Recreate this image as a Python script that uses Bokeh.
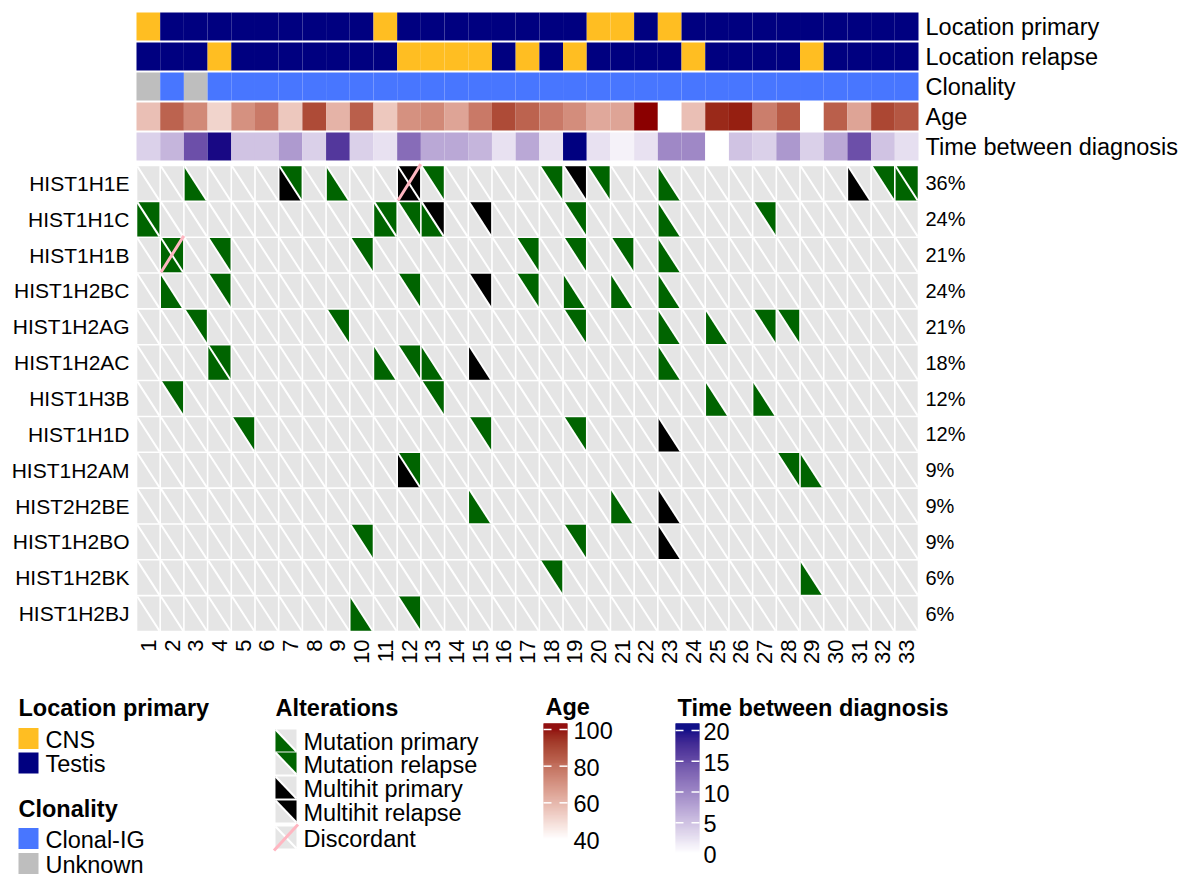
import numpy as np
from bokeh.plotting import figure
from bokeh.layouts import column
from bokeh.models import Range1d, ColumnDataSource
from bokeh.transform import linear_cmap, factor_cmap
from bokeh.core.properties import value
from bokeh.embed import file_html
from bokeh.resources import INLINE

FONT = "Liberation Sans"

# ---------------- data ----------------
samples = list(range(1, 34))

loc_primary = ["CNS", "Testis", "Testis", "Testis", "Testis", "Testis", "Testis", "Testis", "Testis", "Testis",
               "CNS", "Testis", "Testis", "Testis", "Testis", "Testis", "Testis", "Testis", "Testis", "CNS",
               "CNS", "Testis", "CNS", "Testis", "Testis", "Testis", "Testis", "Testis", "Testis", "Testis",
               "Testis", "Testis", "Testis"]
loc_relapse = ["Testis", "Testis", "Testis", "CNS", "Testis", "Testis", "Testis", "Testis", "Testis", "Testis",
               "Testis", "CNS", "CNS", "CNS", "CNS", "Testis", "CNS", "Testis", "CNS", "Testis",
               "Testis", "Testis", "Testis", "CNS", "Testis", "Testis", "Testis", "Testis", "CNS", "Testis",
               "Testis", "Testis", "Testis"]
clonality = ["Unknown", "Clonal-IG", "Unknown", "Clonal-IG", "Clonal-IG", "Clonal-IG", "Clonal-IG", "Clonal-IG",
             "Clonal-IG", "Clonal-IG", "Clonal-IG", "Clonal-IG", "Clonal-IG", "Clonal-IG", "Clonal-IG", "Clonal-IG",
             "Clonal-IG", "Clonal-IG", "Clonal-IG", "Clonal-IG", "Clonal-IG", "Clonal-IG", "Clonal-IG", "Clonal-IG",
             "Clonal-IG", "Clonal-IG", "Clonal-IG", "Clonal-IG", "Clonal-IG", "Clonal-IG", "Clonal-IG", "Clonal-IG",
             "Clonal-IG"]
nan = float("nan")
age = [56, 80, 70, 51, 68, 74, 54, 86, 59, 81, 54, 68, 70, 63, 74, 86, 80, 74, 69, 62,
       63, 100, nan, 56, 94, 96, 73, 82, nan, 81, 63, 87, 83]
time_between = [3.4, 5.5, 13.6, 19.3, 4.4, 4.4, 7.6, 3.5, 15.7, 3.5, 2.2, 11.2, 6.5, 6.5, 5.5, 2.2, 6.5,
                2.2, 20.0, 2.2, 1.0, 2.2, 9.0, 9.0, nan, 4.4, 3.5, 7.8, 3.5, 6.5, 13.6, 4.4, 2.4]

annot_names = ["Location primary", "Location relapse", "Clonality", "Age", "Time between diagnosis"]

genes = ["HIST1H1E", "HIST1H1C", "HIST1H1B", "HIST1H2BC", "HIST1H2AG", "HIST1H2AC", "HIST1H3B",
         "HIST1H1D", "HIST1H2AM", "HIST2H2BE", "HIST1H2BO", "HIST1H2BK", "HIST1H2BJ"]
pct_labels = ["36%", "24%", "21%", "24%", "21%", "18%", "12%", "12%", "9%", "9%", "9%", "6%", "6%"]

mutation_primary = {
    "HIST1H1E": [3, 9, 23, 33], "HIST1H1C": [1, 11, 13, 23], "HIST1H1B": [2, 23],
    "HIST1H2BC": [2, 19, 21, 23], "HIST1H2AG": [23, 25], "HIST1H2AC": [4, 11, 13, 23],
    "HIST1H3B": [25, 27], "HIST1H2AM": [29], "HIST2H2BE": [15, 21], "HIST1H2BK": [29],
    "HIST1H2BJ": [10],
}
mutation_relapse = {
    "HIST1H1E": [7, 13, 18, 20, 32, 33], "HIST1H1C": [1, 11, 12, 19, 27],
    "HIST1H1B": [2, 4, 10, 17, 19, 21], "HIST1H2BC": [4, 12, 17], "HIST1H2AG": [3, 9, 19, 27, 28],
    "HIST1H2AC": [4, 12], "HIST1H3B": [2, 13], "HIST1H1D": [5, 15, 19], "HIST1H2AM": [12, 28],
    "HIST1H2BO": [10, 19], "HIST1H2BK": [18], "HIST1H2BJ": [12],
}
multihit_primary = {
    "HIST1H1E": [7, 12, 31], "HIST1H2AC": [15], "HIST1H1D": [23], "HIST1H2AM": [12],
    "HIST2H2BE": [23], "HIST1H2BO": [23],
}
multihit_relapse = {"HIST1H1E": [12, 19], "HIST1H1C": [13, 15], "HIST1H2BC": [15]}
discordant = {"HIST1H1E": [12], "HIST1H1B": [2]}

age_ticks = [40, 60, 80, 100]
time_ticks = [0, 5, 10, 15, 20]

# ---------------- colours ----------------
C_CNS, C_TESTIS = "#FFBE22", "#000080"
C_CLONAL, C_UNKNOWN = "#4876FF", "#BEBEBE"
C_BG, C_MUT, C_MULTI, C_DISC = "#E5E5E5", "#006400", "#000000", "#FFB6C1"


def _lin(c):
    c = c / 255.0
    return c / 12.92 if c <= 0.04045 else ((c + 0.055) / 1.055) ** 2.4


def _gam(c):
    c = min(1.0, max(0.0, c))
    c = 12.92 * c if c <= 0.0031308 else 1.055 * c ** (1 / 2.4) - 0.055
    return int(round(min(1.0, max(0.0, c)) * 255))


def hex2lab(h):
    r, g, b = [_lin(int(h[i:i + 2], 16)) for i in (1, 3, 5)]
    X = (0.4124564 * r + 0.3575761 * g + 0.1804375 * b) / 0.95047
    Y = 0.2126729 * r + 0.7151522 * g + 0.0721750 * b
    Z = (0.0193339 * r + 0.1191920 * g + 0.9503041 * b) / 1.08883
    f = lambda t: t ** (1 / 3) if t > 216 / 24389 else (24389 / 27 * t + 16) / 116
    fx, fy, fz = f(X), f(Y), f(Z)
    return 116 * fy - 16, 500 * (fx - fy), 200 * (fy - fz)


def lab2hex(L, a, b):
    fy = (L + 16) / 116
    fx = fy + a / 500
    fz = fy - b / 200
    finv = lambda t: t ** 3 if t ** 3 > 216 / 24389 else (116 * t - 16) / (24389 / 27)
    X, Y, Z = finv(fx) * 0.95047, finv(fy), finv(fz) * 1.08883
    r = 3.2404542 * X - 1.5371385 * Y - 0.4985314 * Z
    g = -0.9692660 * X + 1.8760108 * Y + 0.0415560 * Z
    bb = 0.0556434 * X - 0.2040259 * Y + 1.0572252 * Z
    return "#%02x%02x%02x" % (_gam(r), _gam(g), _gam(bb))


def lab_palette(c0, c1, n=256):
    l0, l1 = hex2lab(c0), hex2lab(c1)
    return [lab2hex(*[l0[k] + (l1[k] - l0[k]) * t for k in range(3)]) for t in np.linspace(0, 1, n)]


age_palette = lab_palette("#FFFFFF", "#8B0000")
time_palette = lab_palette("#FFFFFF", "#000080")


def age_cmap(field):
    return linear_cmap(field, age_palette, 40, 100, nan_color="white")


def time_cmap(field):
    return linear_cmap(field, time_palette, 0, 20, nan_color="white")


# ---------------- layout constants (pixels) ----------------
W = 1190
GRID_L, GRID_R = 136.0, 918.0                    # heatmap body left / right edge
PX_COL = (GRID_R - GRID_L) / len(samples)        # pixels per sample column
x_range = Range1d(0.5 - GRID_L / PX_COL, len(samples) + 0.5 + (W - GRID_R) / PX_COL)


def base_fig(height, x_rng, y_rng):
    p = figure(width=W, height=height, x_range=x_rng, y_range=y_rng, output_backend="svg",
               toolbar_location=None, x_axis_location=None, y_axis_location=None, min_border=0,
               title=None)
    p.grid.visible = False
    p.outline_line_color = None
    return p


def txt(p, x, y, t, size, align="left", baseline="middle", bold=False, **kw):
    p.text(x=x, y=y, text=t, text_font=value(FONT), text_font_size=size, text_align=align,
           text_baseline=baseline, text_color="black", text_font_style="bold" if bold else "normal", **kw)


# ---------------- annotation figure ----------------
A_PITCH, A_TOP = 30.0, 11.0
na = len(annot_names)
ay = {n: na - 1 - k for k, n in enumerate(annot_names)}
p1 = base_fig(161, x_range, Range1d(-0.5, na - 0.5 + A_TOP / A_PITCH))
AH = 0.94
loc_map = factor_cmap("v", palette=[C_CNS, C_TESTIS], factors=["CNS", "Testis"])
for name, vals, cmap in [
        ("Location primary", loc_primary, loc_map),
        ("Location relapse", loc_relapse, loc_map),
        ("Clonality", clonality, factor_cmap("v", palette=[C_CLONAL, C_UNKNOWN], factors=["Clonal-IG", "Unknown"])),
        ("Age", np.array(age, dtype=float), age_cmap("v")),
        ("Time between diagnosis", np.array(time_between, dtype=float), time_cmap("v"))]:
    src = ColumnDataSource(dict(x=samples, y=[ay[name]] * len(samples), v=vals))
    p1.rect(x="x", y="y", width=1.0, height=AH, source=src, fill_color=cmap, line_color=None)
txt(p1, [len(samples) + 0.5] * na, [ay[n] for n in annot_names], annot_names, "23.5px", x_offset=7)

# ---------------- oncoprint figure ----------------
G_PITCH = 35.85
ny = len(genes)
ypos = {g: ny - 1 - i for i, g in enumerate(genes)}
p2 = base_fig(529, x_range, Range1d(-0.5 - 59 / G_PITCH, ny - 0.5 + 4 / G_PITCH))

HW, HH = 0.466, 0.478
gx = np.array([s for g in genes for s in samples], dtype=float)
gy = np.array([ypos[g] for g in genes for s in samples], dtype=float)
p2.rect(x=gx, y=gy, width=2 * HW, height=2 * HH, fill_color=C_BG, line_color=None)


def tri_source(table, upper):
    xs, ys = [], []
    for g, cols in table.items():
        for c in cols:
            y = ypos[g]
            if upper:
                xs.append([c - HW, c + HW, c + HW])
                ys.append([y + HH, y + HH, y - HH])
            else:
                xs.append([c - HW, c - HW, c + HW])
                ys.append([y + HH, y - HH, y - HH])
    return dict(xs=xs, ys=ys)


for table, upper, col in [(mutation_primary, False, C_MUT), (mutation_relapse, True, C_MUT),
                          (multihit_primary, False, C_MULTI), (multihit_relapse, True, C_MULTI)]:
    d = tri_source(table, upper)
    p2.patches(xs=d["xs"], ys=d["ys"], fill_color=col, line_color=None)

p2.segment(x0=gx - HW, y0=gy + HH, x1=gx + HW, y1=gy - HH, line_color="white", line_width=2)

dx = np.array([c for g, cols in discordant.items() for c in cols], dtype=float)
dy = np.array([ypos[g] for g, cols in discordant.items() for c in cols], dtype=float)
p2.segment(x0=dx - HW, y0=dy - HH, x1=dx + HW + 0.03, y1=dy + HH + 0.06, line_color=C_DISC, line_width=3)

# row names, percentages, column names
txt(p2, [0.5] * ny, [ypos[g] for g in genes], genes, "21px", align="right", x_offset=-7)
txt(p2, [len(samples) + 0.5] * ny, [ypos[g] for g in genes], pct_labels, "20px", x_offset=7)
txt(p2, samples, [-0.5] * len(samples), [str(s) for s in samples], "22px", align="right",
    angle=np.pi / 2, y_offset=8)

# ---------------- legend figure (page pixel coordinates) ----------------
p3 = base_fig(187, Range1d(0, W), Range1d(877, 690))
TS = "23.5px"


def label(x, y, t):
    txt(p3, [x] * len(t), y, t, TS)


def ltitle(x, y, t):
    txt(p3, [x], [y], [t], TS, bold=True)


ltitle(18, 707, "Location primary")
p3.rect(x=[28, 28], y=[738, 762.5], width=20, height=21, fill_color=[C_CNS, C_TESTIS], line_color=None)
label(45, [739, 763.5], ["CNS", "Testis"])

ltitle(18, 808, "Clonality")
p3.rect(x=[28, 28], y=[838, 863], width=20, height=21, fill_color=[C_CLONAL, C_UNKNOWN], line_color=None)
label(45, [839, 864], ["Clonal-IG", "Unknown"])

ltitle(275, 707, "Alterations")
alt_names = ["Mutation primary", "Mutation relapse", "Multihit primary", "Multihit relapse", "Discordant"]
ly = [740, 763, 787, 811, 837]
ix, iw, ih = 285.5, 10.5, 11
p3.rect(x=[ix] * 5, y=ly, width=2 * iw, height=2 * ih, fill_color=C_BG, line_color=None)
ll = lambda y: ([ix - iw, ix - iw, ix + iw], [y - ih, y + ih, y + ih])
ur = lambda y: ([ix - iw, ix + iw, ix + iw], [y - ih, y - ih, y + ih])
shapes = [(ll(ly[0]), C_MUT), (ur(ly[1]), C_MUT), (ll(ly[2]), C_MULTI), (ur(ly[3]), C_MULTI)]
p3.patches(xs=[s[0][0] for s in shapes], ys=[s[0][1] for s in shapes], fill_color=[s[1] for s in shapes],
           line_color=None)
p3.segment(x0=[ix - iw] * 5, y0=[y - ih for y in ly], x1=[ix + iw] * 5, y1=[y + ih for y in ly],
           line_color="white", line_width=2)
p3.segment(x0=[ix - iw - 1.5], y0=[ly[4] + ih + 2], x1=[ix + iw + 1.5], y1=[ly[4] - ih - 2],
           line_color=C_DISC, line_width=3)
label(303, [y + 1 for y in ly], alt_names)

# Age colour bar
ltitle(545, 706, "Age")
a_x0, a_x1 = 543, 567
a_y = lambda v: 839 - (v - 40) * 110 / 60
a_px = np.arange(723, 846)
a_src = ColumnDataSource(dict(y=a_px + 0.5, v=40 + (839 - (a_px + 0.5)) * 60 / 110))
p3.rect(x=(a_x0 + a_x1) / 2, y="y", width=a_x1 - a_x0, height=1.4, source=a_src,
        fill_color=age_cmap("v"), line_color=None)
aty = [a_y(t) for t in age_ticks]
p3.segment(x0=[a_x0] * 4, y0=aty, x1=[a_x0 + 8] * 4, y1=aty, line_color="white", line_width=1.5)
p3.segment(x0=[a_x1 - 8] * 4, y0=aty, x1=[a_x1] * 4, y1=aty, line_color="white", line_width=1.5)
label(573, [y + 1 for y in aty], [str(t) for t in age_ticks])

# Time colour bar
ltitle(677, 707, "Time between diagnosis")
t_x0, t_x1 = 675, 699
t_y = lambda v: 853 - v * 6.15
t_px = np.arange(723, 858)
t_src = ColumnDataSource(dict(y=t_px + 0.5, v=(853 - (t_px + 0.5)) / 6.15))
p3.rect(x=(t_x0 + t_x1) / 2, y="y", width=t_x1 - t_x0, height=1.4, source=t_src,
        fill_color=time_cmap("v"), line_color=None)
tty = [t_y(t) for t in time_ticks]
p3.segment(x0=[t_x0] * 5, y0=tty, x1=[t_x0 + 8] * 5, y1=tty, line_color="white", line_width=1.5)
p3.segment(x0=[t_x1 - 8] * 5, y0=tty, x1=[t_x1] * 5, y1=tty, line_color="white", line_width=1.5)
label(703, [y + 1 for y in tty], [str(t) for t in time_ticks])

layout = column(p1, p2, p3, spacing=0)
open("out.html", "w").write(file_html(layout, INLINE))
